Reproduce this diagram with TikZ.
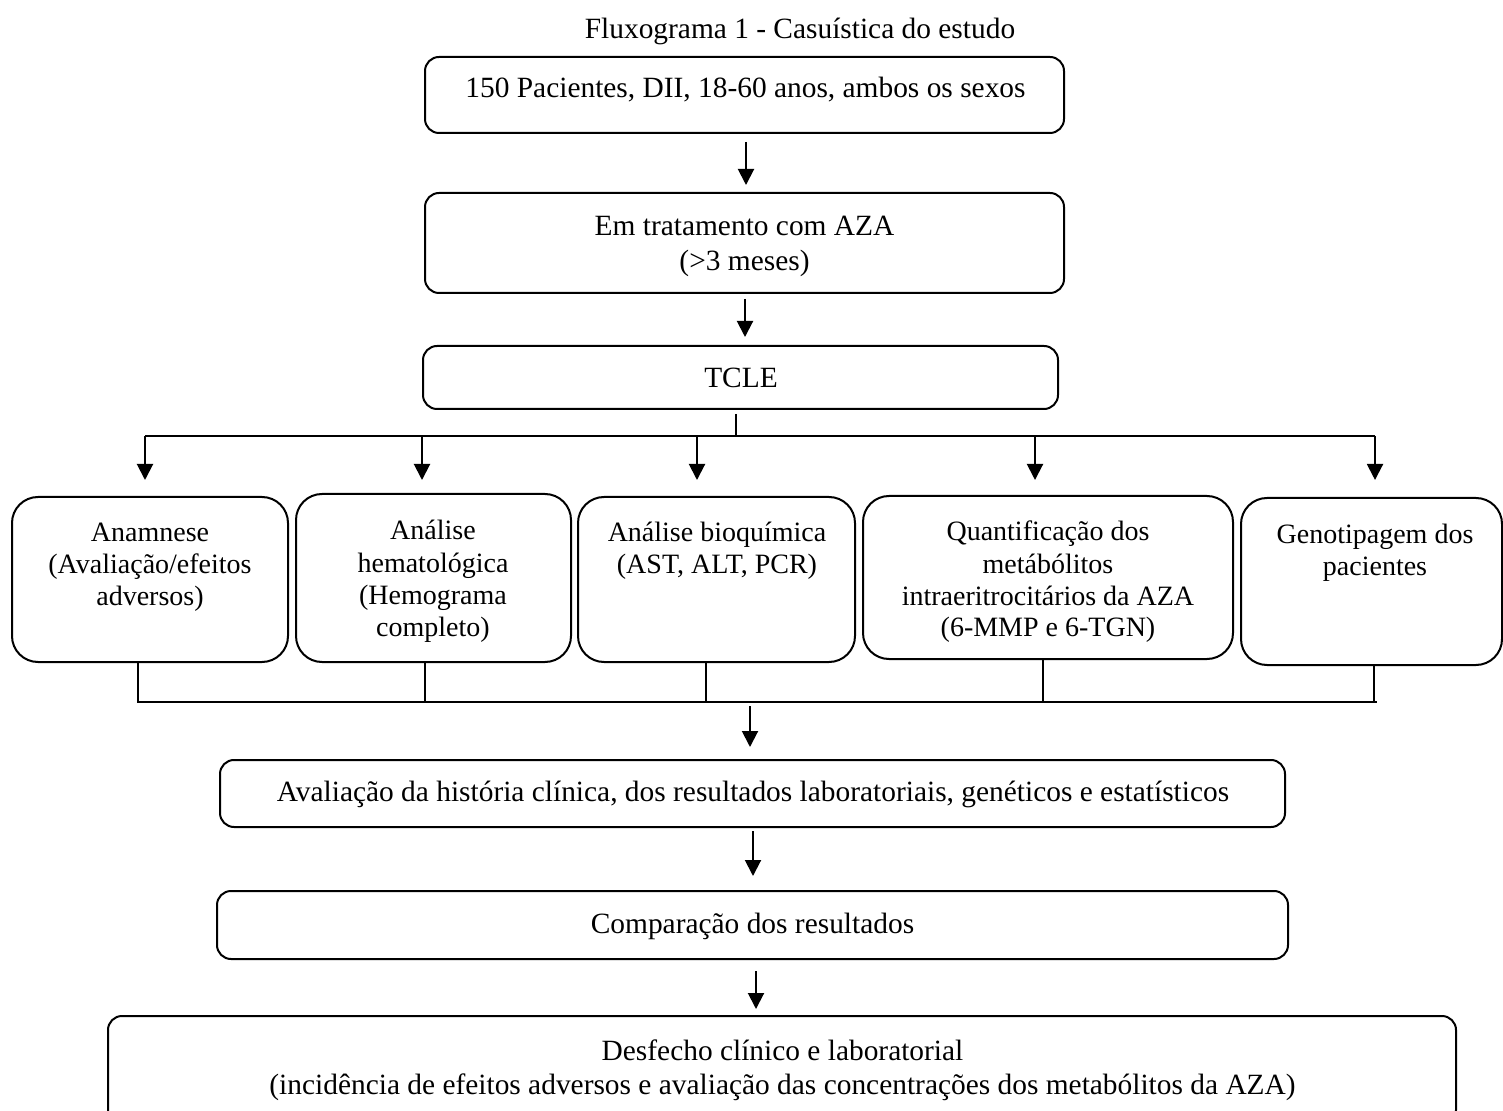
\documentclass[tikz,border=0pt]{standalone}
\usepackage{fontspec}
\setmainfont{Liberation Serif}
\usetikzlibrary{calc,arrows.meta}
\newcommand\mainf{\fontsize{14.7}{17.5}\selectfont}
\newcommand\desff{\fontsize{14.7}{17}\selectfont}
\newcommand\rowf{\fontsize{14}{16}\selectfont}
\begin{document}
\begin{tikzpicture}[x=0.5pt,y=-0.5pt,
  box/.style={draw, line width=1pt, rounded corners=7pt, inner sep=0pt},
  rbox/.style={draw, line width=1pt, rounded corners=13pt, inner sep=0pt},
  txt/.style={font=\mainf, align=center, anchor=base, inner sep=0pt},
  rtxt/.style={font=\rowf, align=center, anchor=base, inner sep=0pt},
  arr/.style={line width=1pt, -{Triangle[length=8pt,width=8pt]}},
  ln/.style={line width=0.7pt},
  hl/.style={line width=1pt}]
\useasboundingbox (0,0) rectangle (1503,1111);
\clip (0,0) rectangle (1503,1111);

% title
\node[txt] (title) at (800,39) {Fluxograma 1 - Casuística do estudo};

% main boxes (multi-line text nodes are anchored at the baseline of their last line)
\node[box, minimum width=319.5pt, minimum height=38pt] (b1) at (744.5,95) {};
\node[txt] (t1) at (745.5,98) {150 Pacientes, DII, 18-60 anos, ambos os sexos};

\node[box, minimum width=319.5pt, minimum height=50pt] (b2) at (744.5,243) {};
\node[txt] (t2) at (744.5,271) {Em tratamento com AZA\\(>3 meses)};

\node[box, minimum width=317.5pt, minimum height=31.5pt] (b3) at (740.5,377.5) {};
\node[txt] (t3) at (741,388) {TCLE};

% row boxes
\node[rbox, minimum width=138pt, minimum height=82.5pt] (bA) at (150,579.5) {};
\node[rtxt] (tA) at (150,605) {Anamnese\\(Avaliação/efeitos\\adversos)};

\node[rbox, minimum width=137.5pt, minimum height=84pt] (bB) at (433.5,578) {};
\node[rtxt] (tB) at (433,636) {Análise\\hematológica\\(Hemograma\\completo)};

\node[rbox, minimum width=138.5pt, minimum height=82.5pt] (bC) at (716.5,579.5) {};
\node[rtxt] (tC) at (717,574) {Análise bioquímica\\(AST, ALT, PCR)};

\node[rbox, minimum width=185pt, minimum height=81.5pt] (bD) at (1048,577.5) {};
\node[rtxt] (tD) at (1048,637) {Quantificação dos\\metábólitos\\intraeritrocitários da AZA\\(6-MMP e 6-TGN)};

\node[rbox, minimum width=130.5pt, minimum height=83.5pt] (bE) at (1371.5,581.5) {};
\node[rtxt] (tE) at (1375,575) {Genotipagem dos\\pacientes};

% lower boxes
\node[box, minimum width=532.5pt, minimum height=33.5pt] (bAv) at (752.5,793.5) {};
\node[txt] (tAv) at (753,801) {Avaliação da história clínica, dos resultados laboratoriais, genéticos e estatísticos};

\node[box, minimum width=535.5pt, minimum height=34pt] (bCo) at (752.5,925) {};
\node[txt] (tCo) at (752.5,933) {Comparação dos resultados};

\node[box, minimum width=674pt, minimum height=54pt] (bDe) at (782,1070) {};
\node[txt, font=\desff] (tDe) at (782.5,1094) {Desfecho clínico e laboratorial\\(incidência de efeitos adversos e avaliação das concentrações dos metabólitos da AZA)};

% top arrows
\draw[arr] ($(b1.south)+(1.5,8)$) -- ($(b2.north)+(1.5,-7)$);
\draw[arr] ($(b2.south)+(0.5,5)$) -- ($(b3.north)+(4.5,-8)$);

% split from TCLE
\coordinate (hL) at (145,436);
\coordinate (hR) at (1375,436);
\draw[ln] ($(b3.south)+(-4.5,4)$) -- ($(b3.south |- hL)+(-4.5,0)$);
\draw[hl] (hL) -- (hR);
\coordinate (aA) at (145,436);
\coordinate (aB) at (422,436);
\coordinate (aC) at (697,436);
\coordinate (aD) at (1035,436);
\coordinate (aE) at (1375,436);
\draw[arr, shorten >=8pt] (aA) -- (aA |- bA.north);
\draw[arr, shorten >=8pt] (aB) -- (aB |- bA.north);
\draw[arr, shorten >=8pt] (aC) -- (aC |- bA.north);
\draw[arr, shorten >=8pt] (aD) -- (aD |- bA.north);
\draw[arr, shorten >=8pt] (aE) -- (aE |- bA.north);

% join below row
\coordinate (gL) at (137,702);
\coordinate (gR) at (1377,702);
\coordinate (sA) at (138,702);
\coordinate (sB) at (425,702);
\coordinate (sC) at (706,702);
\coordinate (sD) at (1043,702);
\coordinate (sE) at (1374,702);
\draw[ln] (sA |- bA.south) -- (sA);
\draw[ln] (sB |- bB.south) -- (sB);
\draw[ln] (sC |- bC.south) -- (sC);
\draw[ln] (sD |- bD.south) -- (sD);
\draw[ln] (sE |- bE.south) -- (sE);
\draw[hl] (gL) -- (gR);
\coordinate (m) at (750,706);
\draw[arr, shorten >=6pt] (m) -- (m |- bAv.north);

% bottom arrows
\draw[arr] ($(bAv.south)+(0.5,3)$) -- ($(bCo.north)+(0.5,-14)$);
\draw[arr] ($(bCo.south)+(3.5,11)$) -- ($(bDe.north)+(-26,-6)$);
\end{tikzpicture}
\end{document}
